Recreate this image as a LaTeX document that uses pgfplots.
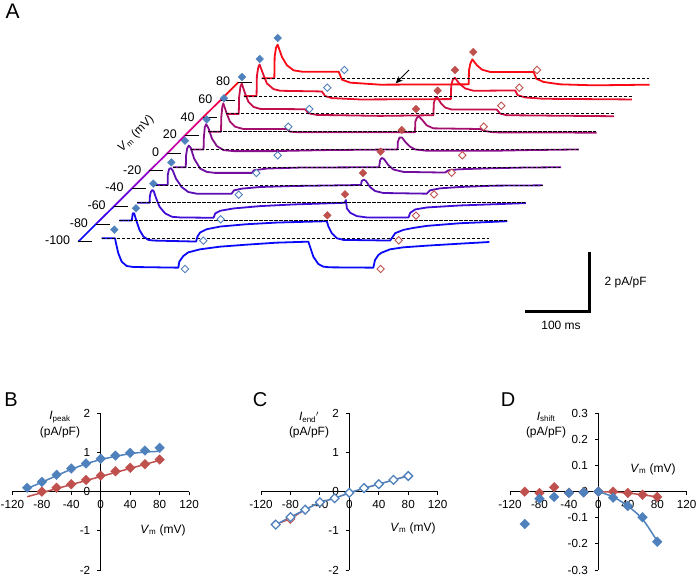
\documentclass[border=0pt]{standalone}
\usepackage{fontspec}
\setmainfont{Liberation Sans}
\usepackage{pgfplots}
\pgfplotsset{compat=1.18}
\usetikzlibrary{arrows.meta}

\definecolor{cblue}{HTML}{4F81BD}
\definecolor{cred}{HTML}{C0504D}
\definecolor{t0}{RGB}{10,10,250}
\definecolor{t1}{RGB}{20,10,240}
\definecolor{t2}{RGB}{65,15,215}
\definecolor{t3}{RGB}{90,15,180}
\definecolor{t4}{RGB}{115,15,160}
\definecolor{t5}{RGB}{135,15,140}
\definecolor{t6}{RGB}{165,15,110}
\definecolor{t7}{RGB}{195,15,75}
\definecolor{t8}{RGB}{230,15,45}
\definecolor{t9}{RGB}{250,10,20}

\newcommand{\lf}{\fontsize{12}{14}\selectfont}

% panel A is drawn in units of 1/3 px, traces are local to their own baseline
\newcommand{\trace}[3]{%
  \addplot[#2,line width=1.8pt,line join=round,
    x filter/.expression={x+305+53.33*#1},
    y filter/.expression={y+1013+53.33*#1}] coordinates {#3};
  \addplot[black,line width=0.9pt,dash pattern=on 3.3pt off 1.7pt,
    x filter/.expression={x+305+53.33*#1},
    y filter/.expression={y+1013+53.33*#1}] coordinates {(0,0) (1163,0)};
}
\newcommand{\lab}[3]{\node[font=\lf] at (axis cs:{3*#1},{1728-3*#2}) {#3};}
\newcommand{\vtick}[2]{%
  \draw[black,line width=0.9pt] (axis cs:{235+53.33*#1},{1003+53.11*#1}) -- ++(axis direction cs:42,0);
  \node[anchor=east,inner sep=0pt,font=\fontsize{12.5}{14}\selectfont] at (axis cs:{211+53.33*#1},{1006+53.11*#1}) {#2};
}

\pgfplotsset{
  filled/.style={only marks,mark=square*,mark size=2.7pt,mark options={rotate=45,#1,fill=#1,draw=#1}},
  hollow/.style={only marks,mark=square*,mark size=2.6pt,mark options={rotate=45,draw=#1,fill=white,line width=0.9pt}},
  iv/.style={
    scale only axis,width=176.7pt,height=156.7pt,anchor=south west,
    axis lines=middle,axis line style={-,line width=1.2pt},
    enlargelimits=false,clip=false,
    xmin=-120,xmax=120,xtick={-120,-80,-40,0,40,80,120},
    hide obscured x ticks=false,hide obscured y ticks=false,
    tick align=outside,major tick length=3.5pt,
    tick style={black,line width=1pt},
    /pgf/number format/assume math mode=true,
    tick label style={font=\fontsize{11.7}{13}\selectfont},
    xticklabel style={yshift=-1.5pt},
    yticklabel style={xshift=-3.5pt},
  },
}

\begin{document}
\begin{tikzpicture}
\path[use as bounding box] (0,0) rectangle (698pt,576pt);

\begin{axis}[at={(0pt,0pt)},anchor=south west,scale only axis,width=698pt,height=576pt,
  xmin=0,xmax=2094,ymin=0,ymax=1728,hide axis,clip=false]

% Vm axis
\addplot[t0,line width=1.7pt] coordinates {(235,1003) (288,1056)};
\addplot[color={rgb,255:red,60;green,0;blue,240},line width=1.7pt] coordinates {(288,1056) (342,1109)};
\addplot[color={rgb,255:red,100;green,0;blue,225},line width=1.7pt] coordinates {(342,1109) (395,1162)};
\addplot[color={rgb,255:red,140;green,0;blue,210},line width=1.7pt] coordinates {(395,1162) (448,1215)};
\addplot[color={rgb,255:red,170;green,0;blue,195},line width=1.7pt] coordinates {(448,1215) (502,1268)};
\addplot[color={rgb,255:red,200;green,0;blue,170},line width=1.7pt] coordinates {(502,1268) (555,1322)};
\addplot[color={rgb,255:red,225;green,0;blue,130},line width=1.7pt] coordinates {(555,1322) (608,1375)};
\addplot[color={rgb,255:red,240;green,0;blue,80},line width=1.7pt] coordinates {(608,1375) (662,1428)};
\addplot[t9,line width=1.7pt] coordinates {(662,1428) (715,1481)};
\vtick{0}{-100}
\vtick{1}{-80}
\vtick{2}{-60}
\vtick{3}{-40}
\vtick{4}{-20}
\vtick{5}{0}
\vtick{6}{20}
\vtick{7}{40}
\vtick{8}{60}
\vtick{9}{80}

% traces, -100 mV at the bottom up to +80 mV
\trace{0}{t0}{(0,0)(40,0)(43,-15)(50,-45)(60,-70)(75,-83)(95,-86)(230,-88)(233,-70)(245,-53)(260,-42)(295,-33)(355,-25)(435,-19)(525,-13)(620,-10)(625,-25)(635,-55)(650,-77)(665,-85)(685,-87)(815,-88)(820,-65)(830,-50)(840,-43)(865,-33)(905,-27)(975,-22)(1075,-16)(1163,-11)}
\trace{1}{t1}{(0,0)(37,0)(40,22)(44,22)(50,2)(60,-28)(72,-48)(87,-58)(102,-60)(230,-63)(234,-48)(242,-36)(262,-26)(302,-18)(382,-11)(472,-6)(622,-2)(627,-18)(637,-38)(652,-53)(672,-58)(812,-60)(817,-53)(827,-38)(852,-28)(882,-22)(922,-16)(1022,-8)(1164,-2)}
\trace{2}{t2}{(0,0)(37,0)(38,20)(41,33)(45,38)(49,36)(57,13)(67,-12)(84,-32)(104,-42)(129,-44)(229,-45)(234,-32)(249,-24)(289,-17)(369,-10)(469,-5)(622,0)(626,8)(629,-17)(639,-30)(659,-40)(689,-44)(814,-44)(819,-30)(834,-20)(869,-14)(969,-8)(1166,-1)}
\trace{3}{t3}{(0,0)(38,0)(38,29)(42,47)(47,51)(53,44)(63,19)(80,-6)(100,-21)(125,-26)(230,-26)(237,-16)(260,-11)(315,-6)(415,-3)(618,0)(620,12)(627,16)(633,12)(645,-6)(660,-18)(685,-24)(815,-26)(825,-16)(855,-10)(915,-6)(1015,-2)(1163,-1)}
\trace{4}{t4}{(0,0)(39,0)(40,36)(43,56)(48,65)(54,58)(64,26)(82,-4)(102,-14)(127,-17)(237,-17)(244,-9)(282,-4)(382,-1)(619,0)(622,21)(627,28)(634,24)(647,6)(662,-7)(692,-14)(817,-16)(827,-9)(862,-6)(962,-3)(1052,-1)(1165,0)}
\trace{5}{t5}{(0,0)(39,0)(40,38)(43,68)(47,76)(54,63)(64,33)(79,10)(99,-2)(129,-5)(249,-5)(400,-2)(621,0)(622,23)(627,36)(634,36)(644,23)(659,8)(674,0)(709,-4)(909,-4)(1009,-2)(1165,0)}
\trace{6}{t6}{(0,0)(38,0)(39,45)(42,75)(45,85)(55,55)(65,30)(80,15)(105,8)(235,8)(245,0)(275,-2)(620,-2)(621,30)(625,40)(630,47)(642,35)(655,19)(675,10)(815,8)(830,2)(855,-2)(1165,-3)}
\trace{7}{t7}{(0,0)(38,0)(39,50)(43,82)(47,91)(57,61)(67,36)(82,21)(102,15)(237,14)(247,2)(272,-3)(462,-6)(622,-4)(623,31)(627,46)(633,51)(645,31)(657,19)(677,13)(812,13)(822,1)(842,-4)(1164,-7)}
\trace{8}{t8}{(0,0)(38,0)(39,60)(43,86)(47,95)(59,63)(69,38)(89,21)(109,16)(234,14)(244,0)(264,-6)(349,-10)(621,-9)(622,33)(627,50)(633,55)(646,38)(664,23)(689,16)(814,17)(821,3)(844,-4)(899,-8)(1164,-10)}
\trace{9}{t9}{(0,0)(38,0)(39,65)(43,92)(48,101)(61,64)(76,39)(96,24)(121,20)(231,20)(241,-4)(266,-13)(356,-19)(621,-18)(622,24)(626,44)(632,57)(646,39)(661,26)(686,19)(816,19)(824,-1)(846,-11)(896,-18)(996,-21)(1164,-19)}

% markers on the traces, absolute
\addplot[filled=cblue] coordinates {(343,1039)(408,1103)(460,1177)(514,1241)(555,1306)(620,1370)(672,1433)(726,1497)(779,1551)(833,1614)};
\addplot[filled=cred] coordinates {(982,1082)(1035,1145)(1089,1209)(1142,1273)(1205,1338)(1248,1401)(1313,1456)(1365,1518)(1420,1572)};
\addplot[hollow=cblue] coordinates {(555,921)(610,1006)(662,1070)(716,1144)(769,1209)(833,1262)(865,1348)(928,1401)(982,1465)(1033,1518)};
\addplot[hollow=cred] coordinates {(1142,921)(1196,1007)(1248,1081)(1302,1145)(1355,1210)(1387,1262)(1451,1348)(1504,1411)(1558,1465)(1611,1518)};

% arrow and scale bar
\draw[-{Stealth[length=7pt,width=6pt]},black,line width=1pt] (axis cs:1227,1518) -- (axis cs:1187,1478);
\addplot[black,line width=2.8pt] coordinates {(1768,973) (1768,790)};
\addplot[black,line width=2.8pt] coordinates {(1575,794) (1772,794)};

\lab{625.7}{282.7}{2 pA/pF}
\lab{561}{325}{100 ms}
\node[rotate=45,font=\lf] at (axis cs:408,1326) {\textit{V}\textsubscript{m} (mV)};

\lab{12.7}{11}{\fontsize{21}{24}\selectfont A}
\lab{11}{400}{\fontsize{20}{24}\selectfont B}
\lab{260}{400}{\fontsize{20}{24}\selectfont C}
\lab{508}{400}{\fontsize{20}{24}\selectfont D}

\lab{60}{417}{\textit{I}\textsubscript{peak}}
\lab{60}{432}{(pA/pF)}
\lab{163}{530}{\textit{V}\textsubscript{m} (mV)}
\lab{309}{417}{\textit{I}\textsubscript{end}$'$}
\lab{309}{432}{(pA/pF)}
\lab{413}{528}{\textit{V}\textsubscript{m} (mV)}
\lab{546}{417}{\textit{I}\textsubscript{shift}}
\lab{546}{432}{(pA/pF)}
\lab{653}{469}{\textit{V}\textsubscript{m} (mV)}
\end{axis}

% B
\begin{axis}[iv,at={(12.4pt,6pt)},ymin=-2,ymax=2,ytick={-2,-1,0,1,2}]
\addplot[cblue,line width=1.5pt,smooth] coordinates {(-100,0.08)(-80,0.24)(-60,0.41)(-40,0.57)(-20,0.71)(0,0.82)(20,0.90)(40,0.97)(60,1.01)(80,1.03)};
\addplot[cred,line width=1.5pt] coordinates {(-100,-0.13)(80,0.80)};
\addplot[filled=cblue,mark size=3.4pt] coordinates {(-100,0.10)(-80,0.25)(-60,0.43)(-40,0.59)(-20,0.72)(0,0.84)(20,0.92)(40,0.99)(60,1.05)(80,1.12)};
\addplot[filled=cred,mark size=3.4pt] coordinates {(-80,0.0)(-60,0.10)(-40,0.19)(-20,0.30)(0,0.41)(20,0.52)(40,0.61)(60,0.70)(80,0.82)};
\end{axis}

% C
\begin{axis}[iv,at={(261pt,6pt)},ymin=-2,ymax=2,ytick={-2,-1,0,1,2}]
\addplot[cred,line width=1pt] coordinates {(-100,-0.84)(-80,-0.70)(-60,-0.46)(-40,-0.27)(-20,-0.17)(0,-0.03)(20,0.09)(40,0.19)(60,0.30)(80,0.42)};
\addplot[hollow=cred,mark size=3pt] coordinates {(-80,-0.70)};
\addplot[cblue,line width=1.5pt,mark=square*,mark size=3.1pt,mark options={rotate=45,draw=cblue,fill=white,line width=1.3pt}] coordinates {(-100,-0.84)(-80,-0.65)(-60,-0.46)(-40,-0.27)(-20,-0.17)(0,-0.03)(20,0.09)(40,0.19)(60,0.30)(80,0.40)};
\end{axis}

% D
\begin{axis}[iv,at={(510pt,6pt)},ymin=-0.3,ymax=0.3,ytick={-0.3,-0.2,-0.1,0,0.1,0.2,0.3},
  /pgf/number format/fixed,/pgf/number format/precision=1]
\addplot[cred,line width=1.5pt] coordinates {(0,0)(20,-0.001)(40,-0.005)(60,-0.012)(80,-0.02)};
\addplot[cblue,line width=1.5pt,smooth] coordinates {(0,0)(20,-0.02)(40,-0.055)(60,-0.105)(80,-0.19)};
\addplot[filled=cred,mark size=3.4pt] coordinates {(-100,0)(-80,-0.005)(-60,0.017)(-40,-0.004)(-20,-0.002)(0,0)(20,0)(40,-0.005)(60,-0.012)(80,-0.02)};
\addplot[filled=cblue,mark size=3.4pt] coordinates {(-100,-0.124)(-80,-0.027)(-60,-0.02)(-40,-0.005)(-20,-0.003)(0,0)(20,-0.023)(40,-0.055)(60,-0.098)(80,-0.192)};
\end{axis}
\end{tikzpicture}
\end{document}
